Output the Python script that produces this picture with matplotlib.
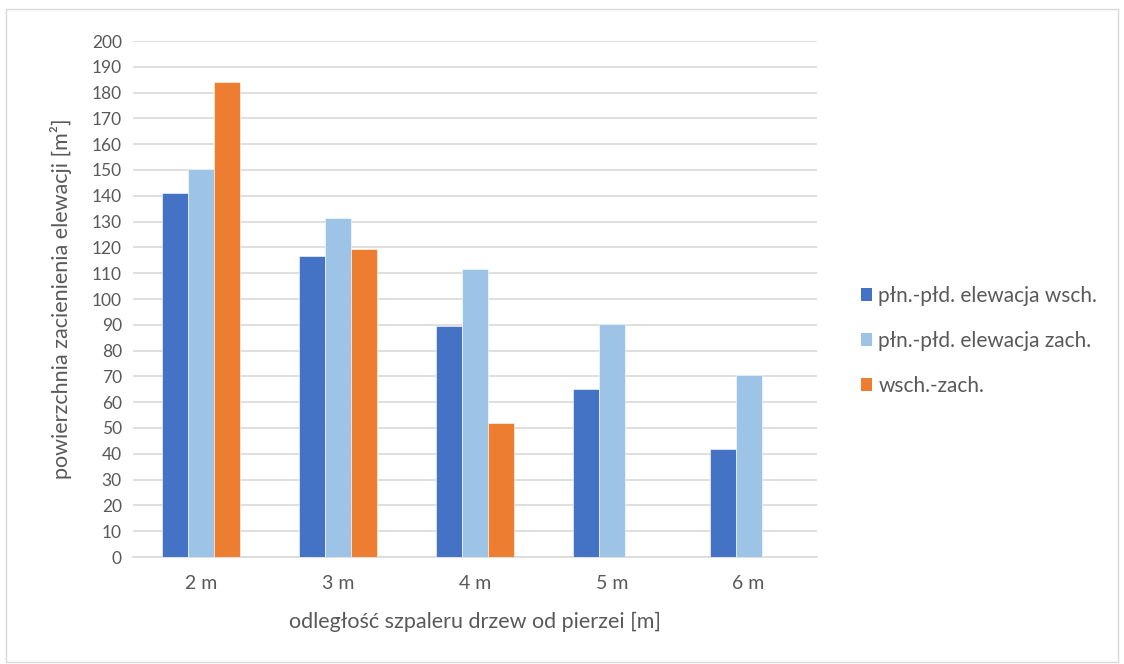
import matplotlib
matplotlib.use("Agg")
import matplotlib.pyplot as plt
import numpy as np
from matplotlib.patches import Rectangle, Patch

categories = ["2 m", "3 m", "4 m", "5 m", "6 m"]
series_names = ["płn.-płd. elewacja wsch.", "płn.-płd. elewacja zach.", "wsch.-zach."]
east = [141, 116.5, 89.5, 65, 42]
west = [150.5, 131.5, 111.5, 90.5, 70.5]
ew = [184, 119.5, 52, np.nan, np.nan]
yticks = list(range(0, 201, 10))

colors = ["#4472C4", "#9DC3E6", "#ED7D31"]
text_color = "#595959"

plt.rcParams['font.family'] = ['Lato', 'DejaVu Sans']

fig = plt.figure(figsize=(11.24, 6.64), dpi=100)
ax = fig.add_axes([133/1124, 1-557/664, (817-133)/1124, (557-41)/664])

x = np.arange(len(categories))
w = 0.19
data = [east, west, ew]
for i, (vals, c) in enumerate(zip(data, colors)):
    ax.bar(x + (i-1)*w, vals, width=w, color=c, edgecolor="white", linewidth=0.4, zorder=3)

ax.set_xlim(-0.5, len(categories)-0.5)
ax.set_ylim(0, 200)
ax.set_yticks(yticks)
ax.set_xticks(x)
ax.set_xticklabels(categories)
ax.grid(axis="y", color="#D9D9D9", linewidth=1.2, zorder=0)
ax.set_axisbelow(True)
for s in ["top", "right", "left"]:
    ax.spines[s].set_visible(False)
ax.spines["bottom"].set_color("#D9D9D9")
ax.spines["bottom"].set_linewidth(1.2)
ax.tick_params(axis="both", length=0, colors=text_color)
ax.tick_params(axis="y", labelsize=12.5, pad=8)
ax.tick_params(axis="x", labelsize=14, pad=13)

ax.set_xlabel("odległość szpaleru drzew od pierzei [m]", fontsize=15.5, color=text_color, labelpad=14)
ax.set_ylabel("powierzchnia zacienienia elewacji [m²]", fontsize=15.5, color=text_color, labelpad=14)

handles = [Patch(facecolor=c, edgecolor="none") for c in colors]
leg = fig.legend(handles, series_names, loc="center left", bbox_to_anchor=(842/1124, 1-341/664),
                 frameon=False, fontsize=15, labelcolor=text_color, handlelength=0.55,
                 handleheight=0.55, handletextpad=0.3, labelspacing=1.2)

fig.patches.append(Rectangle((6/1124, 2/664), 1112/1124, 653/664, transform=fig.transFigure,
                             fill=False, edgecolor="#D9D9D9", linewidth=1.0))

fig.savefig("out.png", dpi=100)
